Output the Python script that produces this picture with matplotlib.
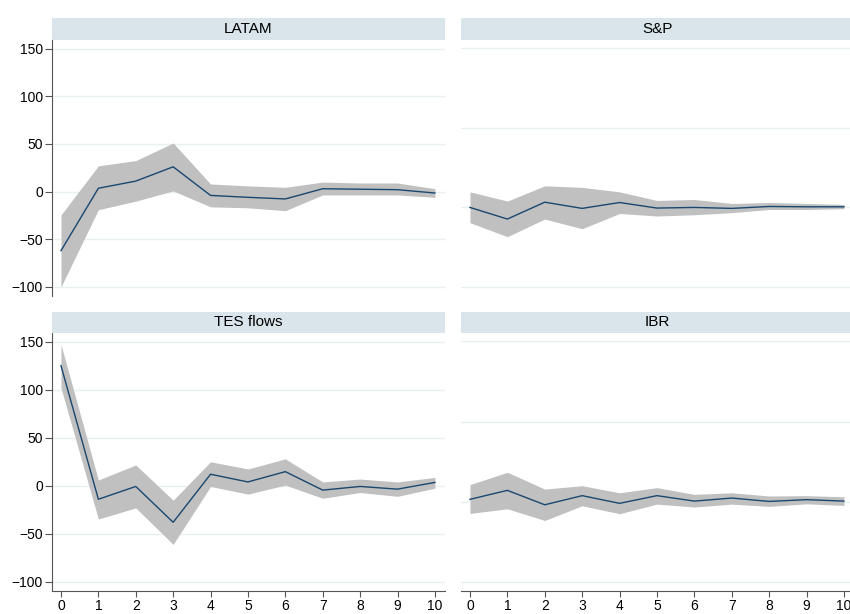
import numpy as np
import matplotlib
matplotlib.use("Agg")
import matplotlib.pyplot as plt

plt.rcParams['font.family'] = ['Liberation Sans', 'DejaVu Sans']

steps = np.arange(0, 11)

# impulse responses with confidence bands
latam = [-62, 3.5, 11, 26, -4, -6, -7.7, 3, 2.5, 2, -1.5]
latam_hi = [-24.5, 27, 32.5, 51, 8, 6, 4.5, 10, 9, 9, 3]
latam_lo = [-100, -19, -10, 0.7, -16, -17, -20, -3.5, -3.5, -3.5, -6]

tes = [125, -14, -0.7, -38, 12, 4, 14.7, -4.5, -0.7, -3.5, 3.5]
tes_hi = [147, 6, 21.7, -15, 25, 17.5, 28, 4, 7, 4, 8.7]
tes_lo = [102, -34.6, -23, -61, -0.7, -8.7, 0.7, -13, -7, -11, -2.5]

sp = [0, -0.073, 0.033, -0.006, 0.031, -0.004, 0, -0.006, 0.006, 0.004, 0.004]
sp_hi = [0.098, 0.04, 0.136, 0.126, 0.098, 0.044, 0.05, 0.025, 0.031, 0.025, 0.019]
sp_lo = [-0.096, -0.184, -0.073, -0.134, -0.038, -0.054, -0.046, -0.033, -0.013, -0.013, -0.008]

ibr = [0.015, 0.071, -0.019, 0.038, -0.010, 0.038, 0.004, 0.023, 0.002, 0.013, 0.004]
ibr_hi = [0.107, 0.184, 0.079, 0.100, 0.056, 0.088, 0.046, 0.056, 0.036, 0.038, 0.031]
ibr_lo = [-0.073, -0.044, -0.117, -0.025, -0.075, -0.015, -0.033, -0.015, -0.029, -0.013, -0.023]

left_ticks = [-100, -50, 0, 50, 100, 150]
right_ticks = [-0.5, 0, 0.5, 1.0]

W, H = 850, 614
fig = plt.figure(figsize=(W / 100, H / 100), dpi=100)
fig.patch.set_facecolor('white')

STRIP = '#d9e5eb'
GRID = '#e8f0f2'
BAND = '#c0c0c0'
LINE = '#1a476f'
AXC = '#555555'


def px_axes(x0, y0, x1, y1):
    return fig.add_axes([x0 / W, 1 - y1 / H, (x1 - x0) / W, (y1 - y0) / H])


def strip(x0, y0, x1, y1, title):
    s = px_axes(x0, y0, x1, y1)
    s.set_facecolor(STRIP)
    for sp_ in s.spines.values():
        sp_.set_visible(False)
    s.set_xticks([])
    s.set_yticks([])
    s.text(0.5, 0.5, title, ha='center', va='center', fontsize=11,
           transform=s.transAxes)


def panel(box, y, hi, lo, ticks, ylim, left, bottom):
    ax = px_axes(*box)
    ax.fill_between(steps, lo, hi, color=BAND, linewidth=0)
    ax.plot(steps, y, color=LINE, linewidth=1.0)
    ax.set_xlim(-0.24, 10.27)
    ax.set_ylim(*ylim)
    ax.set_yticks(ticks)
    ax.set_xticks(steps)
    ax.grid(axis='y', color=GRID, linewidth=1.0)
    ax.set_axisbelow(True)
    for side in ['top', 'right']:
        ax.spines[side].set_visible(False)
    ax.spines['left'].set_visible(left)
    ax.spines['bottom'].set_visible(bottom)
    ax.spines['left'].set_color(AXC)
    ax.spines['bottom'].set_color(AXC)
    ax.tick_params(axis='y', left=left, labelleft=left, length=5,
                   color=AXC, labelsize=10, pad=1.5)
    ax.tick_params(axis='x', bottom=bottom, labelbottom=bottom, length=4,
                   color=AXC, labelsize=10, pad=1.5)
    return ax


ylim_l = (-109.5, 159)
ylim_r = (-0.557, 1.053)

strip(52, 18, 445, 40, 'LATAM')
strip(461, 18, 854, 40, 'S&P')
strip(52, 312, 445, 333, 'TES flows')
strip(461, 312, 854, 333, 'IBR')

panel((52, 40, 445, 296), latam, latam_hi, latam_lo, left_ticks, ylim_l, True, False)
panel((461, 40, 854, 296), sp, sp_hi, sp_lo, right_ticks, ylim_r, False, False)
panel((52, 333, 445, 591), tes, tes_hi, tes_lo, left_ticks, ylim_l, True, True)
panel((461, 333, 854, 591), ibr, ibr_hi, ibr_lo, right_ticks, ylim_r, False, True)

fig.savefig('out.png', dpi=100)
